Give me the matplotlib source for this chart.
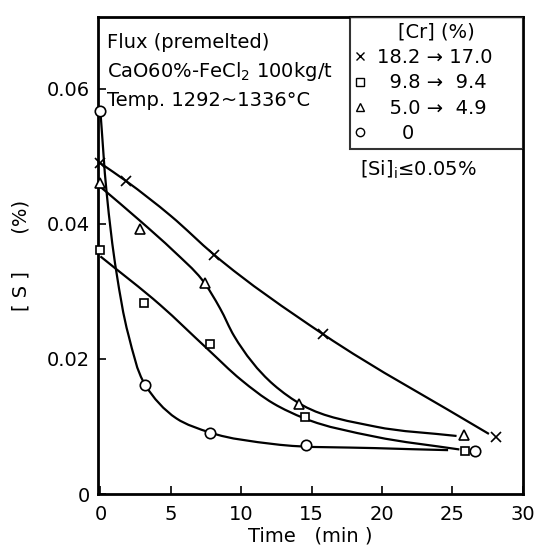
import numpy as np
import matplotlib
matplotlib.use("Agg")
import matplotlib.pyplot as plt
from matplotlib.path import Path
from matplotlib.patches import PathPatch
from matplotlib.lines import Line2D

plt.rcParams['font.family'] = ['DejaVu Sans']
plt.rcParams['mathtext.default'] = 'regular'

# measured points: time (min), [S] (%)
cr18_t = [0, 1.8, 8.1, 15.8, 28.1]
cr18_s = [0.0491, 0.0464, 0.0354, 0.0237, 0.0084]
cr10_t = [0, 3.1, 7.8, 14.5, 25.9]
cr10_s = [0.0361, 0.0283, 0.0222, 0.0114, 0.0064]
cr5_t = [0, 2.8, 7.4, 14.1, 25.8]
cr5_s = [0.0461, 0.0393, 0.0313, 0.0134, 0.0087]
cr0_t = [0, 3.2, 7.8, 14.6, 26.6]
cr0_s = [0.0567, 0.0161, 0.0091, 0.0073, 0.0064]

# hand drawn curves, knots
cr18_fit_t = [0, 1.8, 5.0, 8.1, 15.8, 27.6]
cr18_fit_s = [0.0490, 0.0464, 0.0412, 0.0354, 0.0237, 0.0089]
cr10_fit_t = [0, 4.25, 7.6, 10.0, 12.3, 14.5, 19.5, 25.5]
cr10_fit_s = [0.0352, 0.0280, 0.0215, 0.0169, 0.0134, 0.0112, 0.0085, 0.0066]
cr5_fit_t = [0, 2.8, 5.2, 7.2, 8.5, 9.5, 12.3, 14.4, 19.5, 25.3]
cr5_fit_s = [0.0455, 0.0405, 0.0360, 0.0318, 0.0275, 0.0234, 0.0162, 0.0131, 0.0100, 0.0086]
cr0_fit_t = [0, 0.45, 1.15, 2.0, 3.2, 5.4, 7.8, 12.3, 19.5, 24.7]
cr0_fit_s = [0.0567, 0.0445, 0.0327, 0.0235, 0.0161, 0.0112, 0.0091, 0.0074, 0.0068, 0.0065]

legend_labels = ["18.2 \u2192 17.0", "  9.8 \u2192  9.4", "  5.0 \u2192  4.9", "    0"]
markers = ['x', 's', '^', 'o']
marker_sizes = [6.5, 6, 7.5, 7.5]

x_ticks = [0, 5, 10, 15, 20, 25, 30]
y_ticks = [0, 0.02, 0.04, 0.06]
y_tick_labels = ["0", "0.02", "0.04", "0.06"]

XMIN, XMAX, YMAX = -0.15, 30, 0.0707


def smoothPath(xs, ys):
    # chord-length hermite spline through the knots, drawn as cubic beziers
    scale = np.array([424.0 / (XMAX - XMIN), 477.0 / YMAX])
    q = np.column_stack([xs, ys]) * scale
    d = np.linalg.norm(np.diff(q, axis=0), axis=1)
    n = len(q)
    m = np.zeros_like(q)
    m[0] = (q[1] - q[0]) / d[0]
    m[-1] = (q[-1] - q[-2]) / d[-1]
    for i in range(1, n - 1):
        a = (q[i] - q[i - 1]) / d[i - 1]
        b = (q[i + 1] - q[i]) / d[i]
        m[i] = (a * d[i] + b * d[i - 1]) / (d[i] + d[i - 1])
    verts = [q[0]]
    codes = [Path.MOVETO]
    for i in range(n - 1):
        verts += [q[i] + m[i] * d[i] / 3, q[i + 1] - m[i + 1] * d[i] / 3, q[i + 1]]
        codes += [Path.CURVE4] * 3
    return Path(np.array(verts) / scale, codes)


fig = plt.figure(figsize=(5.4, 5.46), dpi=100)
ax = fig.add_axes([0.182, 0.0952, 0.786, 0.8742])

fits = [(cr18_fit_t, cr18_fit_s), (cr10_fit_t, cr10_fit_s),
        (cr5_fit_t, cr5_fit_s), (cr0_fit_t, cr0_fit_s)]
for ft, fs in fits:
    ax.add_patch(PathPatch(smoothPath(ft, fs), fill=False, lw=1.6, ec='black', zorder=2))

series = [(cr18_t, cr18_s), (cr10_t, cr10_s), (cr5_t, cr5_s), (cr0_t, cr0_s)]
for (t, s), m, ms in zip(series, markers, marker_sizes):
    ax.plot(t, s, ls='none', marker=m, ms=ms, mfc='white', mec='black', mew=1.2,
            zorder=3, clip_on=False)

ax.set_xlim(XMIN, XMAX)
ax.set_ylim(0, YMAX)
ax.set_xticks(x_ticks)
ax.set_xticklabels([str(v) for v in x_ticks])
ax.set_yticks(y_ticks)
ax.set_yticklabels(y_tick_labels)
ax.tick_params(direction='in', length=6, width=1.2, labelsize=14)
ax.tick_params(axis='x', pad=8)
ax.tick_params(axis='y', pad=6)
for sp in ax.spines.values():
    sp.set_linewidth(2)

ax.set_xlabel("Time   (min )", fontsize=14, labelpad=2)
ax.set_ylabel("[ S ]      (%)", fontsize=14, labelpad=12)

ax.text(0.02, 0.947, "Flux (premelted)", transform=ax.transAxes, fontsize=14, va='center')
ax.text(0.02, 0.886, "CaO60%-FeCl$_2$ 100kg/t", transform=ax.transAxes, fontsize=14, va='center')
ax.text(0.02, 0.825, "Temp. 1292~1336\u00b0C", transform=ax.transAxes, fontsize=14, va='center')
ax.text(0.617, 0.679, "[Si]$_i$\u22640.05%", transform=ax.transAxes, fontsize=14, va='center')

handles = [Line2D([], [], ls='none', marker=m, ms=6, mfc='white', mec='black', mew=1.0)
           for m in markers]
leg = ax.legend(handles, legend_labels, title="[Cr] (%)", loc='upper left',
                bbox_to_anchor=(0.592, 0.0, 0.408, 1.0), mode='expand',
                fontsize=14, title_fontsize=14, frameon=True, fancybox=False,
                edgecolor='black', borderaxespad=0, handlelength=0.5,
                handletextpad=0.6, labelspacing=0.33, borderpad=0.3)
leg.get_frame().set_linewidth(1.5)

fig.savefig("out.png", dpi=100)
